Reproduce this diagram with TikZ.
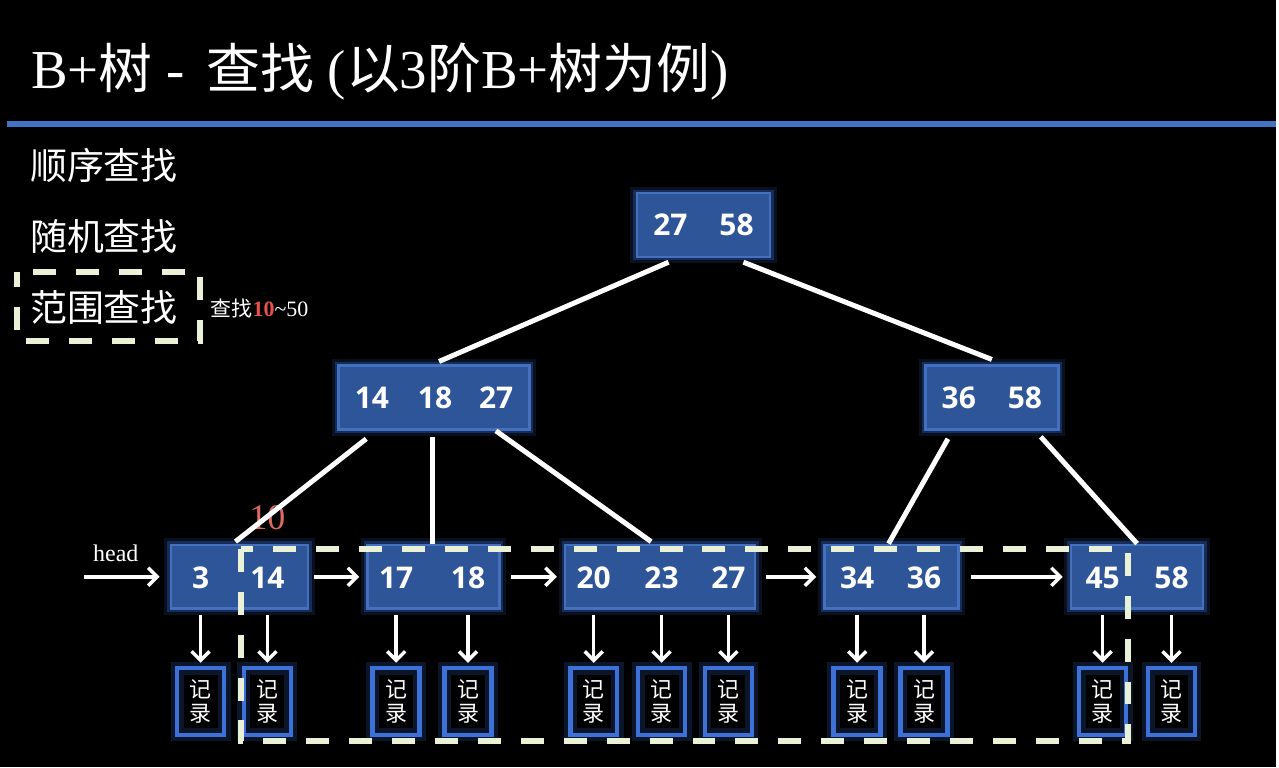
\documentclass[tikz,border=0pt]{standalone}
\usepackage{fontspec}
\setmainfont{Liberation Serif}
\newfontfamily\zhfont{Noto Sans CJK SC}
\newfontfamily\numfont{Open Sans}
\usetikzlibrary{arrows.meta, positioning}

\definecolor{nodeblue}{HTML}{2E5597}
\definecolor{rimblue}{HTML}{4470C0}
\definecolor{glowblue}{HTML}{3F6FD8}
\definecolor{recblue}{HTML}{3E72D8}
\definecolor{lineblue}{HTML}{4472C4}
\definecolor{crema}{HTML}{EBF1D6}
\definecolor{rosso}{HTML}{E8524A}
\definecolor{rosa}{HTML}{E06862}

\newcommand\tz[1]{{\fontsize{54}{54}\zhfont #1}}

\tikzset{
  nodo/.style       = {rectangle, fill=nodeblue, draw=rimblue, line width=2.5pt, minimum height=64pt, inner sep=0pt,
                       text=white, font=\fontsize{30}{30}\numfont\bfseries,
                       preaction={draw=glowblue, line width=13pt, opacity=0.15},
                       preaction={draw=glowblue, line width=7pt, opacity=0.3}},
  chiave/.style     = {inner sep=0pt, minimum height=66pt, text=white, font=\fontsize{30}{30}\numfont\bfseries},
  record/.style     = {rectangle, fill=black, draw=recblue, line width=4.5pt, minimum width=47pt, minimum height=67pt,
                       inner sep=0pt, align=center, text=white, font=\fontsize{22}{25}\zhfont,
                       postaction={draw=glowblue, line width=13pt, opacity=0.2}},
  freccia/.style    = {draw=white, line width=3.5pt, -{Straight Barb[length=9pt, width=18pt]}},
  ramo/.style       = {draw=white, line width=5pt},
  tratteggio/.style = {draw=crema, line width=6pt, dash pattern=on 23pt off 20pt},
  voce/.style       = {anchor=west, inner sep=0pt, text=white, font=\fontsize{37}{37}\zhfont}
}

\begin{document}
\begin{tikzpicture}[x=1pt, y=-1pt]

  \fill[black] (0,0) rectangle (1279,769);

  % titolo
  \node[anchor=base west, inner sep=0pt, text=white] (titolo) at (31,89)
    {\fontsize{55}{55}\selectfont B+\tz{树} -\hspace{8pt} \tz{查找} (\tz{以}3\tz{阶}B+\tz{树为例})};
  \draw[lineblue, line width=5.5pt] (7,124.5) -- (1279,124.5);

  % elenco
  \node[voce] (sequenziale) at (30,166) {顺序查找};
  \node[voce] (casuale)     at (30,237) {随机查找};
  \node[voce] (intervallo)  at (30,308) {范围查找};
  \node[anchor=west, inner sep=0pt, text=white] (esempio) at (211,309)
    {{\fontsize{21}{21}\zhfont 查找}{\fontsize{22}{22}\selectfont\textcolor{rosso}{\textbf{10}}\textasciitilde 50}};

  % radice e nodi interni
  \node[nodo, minimum width=133.5pt] (radice) at (705,225.5) {27\hspace{32pt}58};
  \node[nodo, minimum width=191.5pt] (sx)     at (435,398.5) {14\hspace{29pt}18\hspace{27pt}27};
  \node[nodo, minimum width=133.5pt] (dx)     at (994,398.5) {36\hspace{32pt}58};

  % foglie
  \node[nodo, minimum width=137.5pt] (f1) at (240,578)   {};
  \node[nodo, minimum width=132.5pt] (f2) at (434.5,578) {};
  \node[nodo, minimum width=190.5pt] (f3) at (661.5,578) {};
  \node[nodo, minimum width=134.5pt] (f4) at (893.5,578) {};
  \node[nodo, minimum width=132.5pt] (f5) at (1139.5,578) {};

  % chiavi
  \node[chiave] (k3)  at (201,579)  {3};
  \node[chiave] (k14) at (268,579)  {14};
  \node[chiave] (k17) at (397,579)  {17};
  \node[chiave] (k18) at (469,579)  {18};
  \node[chiave] (k20) at (595,579)  {20};
  \node[chiave] (k23) at (663,579)  {23};
  \node[chiave] (k27) at (730,579)  {27};
  \node[chiave] (k34) at (859,579)  {34};
  \node[chiave] (k36) at (926,579)  {36};
  \node[chiave] (k45) at (1105,579) {45};
  \node[chiave] (k58) at (1174,579) {58};

  % record
  \node[record, below=55pt of k3]  (r3)  {记\\录};
  \node[record, below=55pt of k14] (r14) {记\\录};
  \node[record, below=55pt of k17] (r17) {记\\录};
  \node[record, below=55pt of k18] (r18) {记\\录};
  \node[record, below=55pt of k20] (r20) {记\\录};
  \node[record, below=55pt of k23] (r23) {记\\录};
  \node[record, below=55pt of k27] (r27) {记\\录};
  \node[record, below=55pt of k34] (r34) {记\\录};
  \node[record, below=55pt of k36] (r36) {记\\录};
  \node[record, below=55pt of k45] (r45) {记\\录};
  \node[record, below=55pt of k58] (r58) {记\\录};

  \node[text=rosa, font=\fontsize{36}{36}\selectfont] (dieci) at (268,519) {10};
  \node[text=white, font=\fontsize{24}{24}\selectfont] (testa) at (116,554) {head};

  % rami
  \draw[ramo] ([xshift=-35pt,yshift=-4pt]radice.south) -- ([xshift=5pt,yshift=3pt]sx.north);
  \draw[ramo] ([xshift=40pt,yshift=-4pt]radice.south)  -- ([yshift=5pt]dx.north);
  \draw[ramo] ([xshift=-68pt,yshift=-8pt]sx.south) -- ([xshift=-4pt,yshift=2pt]f1.north);
  \draw[ramo] ([xshift=-2pt,yshift=-6pt]sx.south)  -- ([xshift=-1.5pt]f2.north);
  \draw[ramo] ([xshift=62pt]sx.south)              -- ([xshift=-9pt,yshift=2pt]f3.north);
  \draw[ramo] ([xshift=-44pt,yshift=-8pt]dx.south) -- ([xshift=-3pt]f4.north);
  \draw[ramo] ([xshift=49pt,yshift=-6pt]dx.south)  -- (f5.north);

  % lista
  \coordinate (inizio) at (84,578);
  \draw[freccia, shorten >=10pt] (inizio) -- (f1);
  \draw[freccia, shorten <=5pt, shorten >=7pt] (f1) -- (f2);
  \draw[freccia, shorten <=10pt, shorten >=7pt] (f2) -- (f3);
  \draw[freccia, shorten <=10pt, shorten >=7pt] (f3) -- (f4);
  \draw[freccia, shorten <=11pt, shorten >=7pt] (f4) -- (f5);

  \draw[freccia, shorten <=4pt, shorten >=3pt] (k3)  -- (r3);
  \draw[freccia, shorten <=4pt, shorten >=3pt] (k14) -- (r14);
  \draw[freccia, shorten <=4pt, shorten >=3pt] (k17) -- (r17);
  \draw[freccia, shorten <=4pt, shorten >=3pt] (k18) -- (r18);
  \draw[freccia, shorten <=4pt, shorten >=3pt] (k20) -- (r20);
  \draw[freccia, shorten <=4pt, shorten >=3pt] (k23) -- (r23);
  \draw[freccia, shorten <=4pt, shorten >=3pt] (k27) -- (r27);
  \draw[freccia, shorten <=4pt, shorten >=3pt] (k34) -- (r34);
  \draw[freccia, shorten <=4pt, shorten >=3pt] (k36) -- (r36);
  \draw[freccia, shorten <=4pt, shorten >=3pt] (k45) -- (r45);
  \draw[freccia, shorten <=4pt, shorten >=3pt] (k58) -- (r58);

  % intervalli
  \draw[tratteggio, dash phase=8pt] (17,273) rectangle (200,342);
  \draw[tratteggio] (242,550) rectangle (1130,743);

\end{tikzpicture}
\end{document}
